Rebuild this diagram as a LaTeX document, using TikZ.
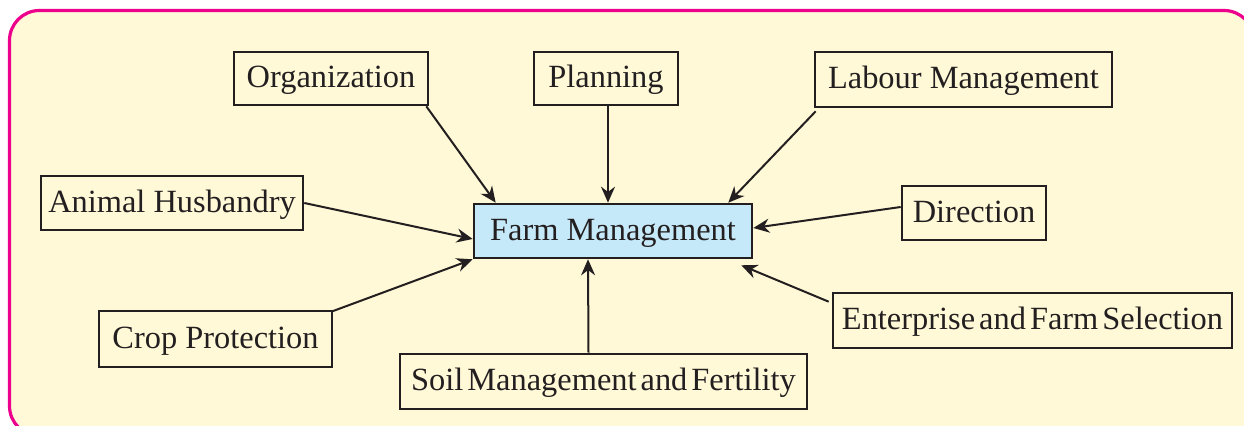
\documentclass[tikz,border=0pt]{standalone}
\usepackage{fontspec}
\setmainfont{Liberation Serif}
\newfontfamily\tightfont[WordSpace=0.5]{Liberation Serif}
\usetikzlibrary{arrows.meta,calc}
\definecolor{bgyellow}{HTML}{FFF9D7}
\definecolor{fmblue}{HTML}{C6E9F9}
\definecolor{bordermag}{HTML}{EC008C}
\definecolor{ink}{HTML}{231F20}
\tikzset{
  box/.style={draw=ink, line width=1.3pt, inner sep=0pt, align=center, text=ink,
    text height=13pt, text depth=3.5pt,
    font=\fontsize{16.2}{19}\selectfont},
  tight/.style={font=\tightfont\fontsize{16.2}{19}\selectfont},
  arr/.style={draw=ink, line width=1pt, -{Stealth[length=8pt,width=7pt]}}
}
\begin{document}
\begin{tikzpicture}[x=0.5pt,y=-0.5pt]
\path[use as bounding box] (0,0) rectangle (1244,426);
\draw[bordermag, line width=1.6pt, fill=bgyellow, rounded corners=15pt] (9.5,10.5) rectangle (1254,436);
\node[box, minimum width=97pt, minimum height=26.5pt] (org) at (331,78.5) {Organization};
\node[box, minimum width=72pt, minimum height=26.5pt] (plan) at (606,78.5) {Planning};
\node[box, minimum width=148.5pt, minimum height=27.5pt] (lab) at (963.5,79.5) {Labour Management};
\node[box, minimum width=131pt, minimum height=27pt] (ah) at (172,203) {Animal Husbandry};
\node[box, fill=fmblue, minimum width=139pt, minimum height=27pt] (fm) at (613,231) {Farm Management};
\node[box, minimum width=72pt, minimum height=27pt] (dir) at (974,213) {Direction};
\node[box, minimum width=116.5pt, minimum height=28pt] (cp) at (215.5,339) {Crop Protection};
\node[box, tight, minimum width=199.5pt, minimum height=27.5pt] (ent) at (1032.5,320.5) {Enterprise and Farm Selection};
\node[box, tight, minimum width=203.5pt, minimum height=27.5pt] (soil) at (603.5,381.5) {Soil Management and Fertility};
\draw[arr] ([xshift=-1.5pt]org.south east) -- ([xshift=11.5pt]fm.north west);
\draw[arr] ([xshift=1pt]plan.south) -- ([xshift=-2.5pt]fm.north);
\draw[arr] ([xshift=1pt,yshift=-1.5pt]lab.south west) -- ([xshift=-12.5pt]fm.north east);
\draw[arr] (ah.east) -- ([yshift=-4pt]fm.west);
\draw[arr] ([yshift=3pt]dir.west) -- ([yshift=1.5pt]fm.east);
\draw[arr] ([xshift=-1pt,yshift=-1pt]cp.north east) -- (fm.south west);
\draw[arr] ([xshift=-1.5pt,yshift=-5pt]ent.north west) -- ([xshift=-6pt,yshift=-3pt]fm.south east);
\draw[arr] ([xshift=-7.5pt]soil.north) -- ([xshift=-12.5pt]fm.south);
\end{tikzpicture}
\end{document}
